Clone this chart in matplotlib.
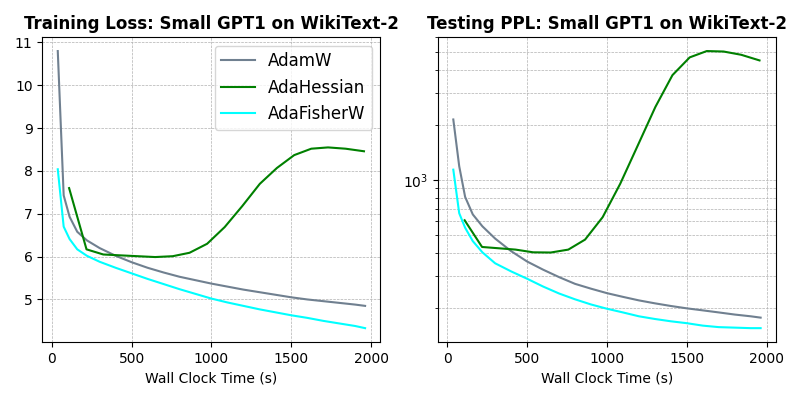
import matplotlib.pyplot as plt
import numpy as np

# wall clock times (s)
t_adamw = [38, 75, 112, 160, 220, 300, 400, 500, 600, 700, 800, 900, 1000,
           1100, 1200, 1300, 1400, 1500, 1600, 1700, 1800, 1900, 1962]
t_fisher = t_adamw
t_hessian = [109, 218, 323, 428, 538, 648, 758, 863, 973, 1083, 1193, 1303,
             1410, 1518, 1625, 1730, 1840, 1955]

# training loss
loss_adamw = [10.8, 7.43, 6.93, 6.58, 6.38, 6.20, 6.02, 5.87, 5.74, 5.63, 5.53, 5.45,
              5.37, 5.30, 5.23, 5.17, 5.11, 5.05, 5.00, 4.96, 4.92, 4.88, 4.85]
loss_fisher = [8.04, 6.70, 6.41, 6.17, 6.02, 5.88, 5.74, 5.61, 5.48, 5.36, 5.24, 5.13,
               5.02, 4.93, 4.85, 4.77, 4.70, 4.63, 4.57, 4.50, 4.44, 4.38, 4.33]
loss_hessian = [7.60, 6.17, 6.05, 6.03, 6.01, 5.99, 6.01, 6.09, 6.30, 6.69, 7.18, 7.70,
                8.07, 8.37, 8.52, 8.55, 8.52, 8.46]

# testing perplexity
ppl_adamw = [2140, 1190, 810, 650, 560, 480, 410, 360, 325, 296, 272, 256,
             242, 231, 221, 213, 206, 200, 195, 190, 185, 181, 178]
ppl_fisher = [1140, 660, 550, 465, 404, 352, 318, 290, 263, 241, 224, 210,
              199, 190, 181, 175, 170, 166, 161, 158, 157, 156, 156]
ppl_hessian = [604, 432, 425, 418, 404, 403, 418, 474, 628, 955, 1545, 2504,
               3733, 4665, 5050, 5020, 4820, 4490]

fig, (ax1, ax2) = plt.subplots(1, 2, figsize=(8, 4), dpi=100)

ax1.plot(t_adamw, loss_adamw, color='slategray', label='AdamW')
ax1.plot(t_hessian, loss_hessian, color='green', label='AdaHessian')
ax1.plot(t_fisher, loss_fisher, color='cyan', label='AdaFisherW')
ax1.set_title('Training Loss: Small GPT1 on WikiText-2', fontweight='bold')
ax1.set_xlabel('Wall Clock Time (s)')
ax1.grid(True, linestyle='--', linewidth=0.5)
ax1.legend(fontsize=12, loc='upper right')

ax2.plot(t_adamw, ppl_adamw, color='slategray', label='AdamW')
ax2.plot(t_hessian, ppl_hessian, color='green', label='AdaHessian')
ax2.plot(t_fisher, ppl_fisher, color='cyan', label='AdaFisherW')
ax2.set_yscale('log')
ax2.set_title('Testing PPL: Small GPT1 on WikiText-2', fontweight='bold')
ax2.set_xlabel('Wall Clock Time (s)')
ax2.grid(True, which='both', linestyle='--', linewidth=0.5)

plt.subplots_adjust(left=0.053, right=0.97, bottom=0.145, top=0.907, wspace=0.17)
plt.savefig('out.png')
